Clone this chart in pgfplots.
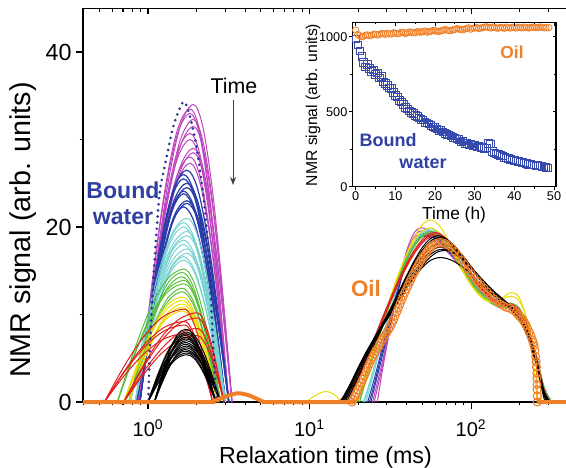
\documentclass[border=0pt]{standalone}
\usepackage{fontspec}
\setmainfont{Liberation Sans}
\usepackage{pgfplots}
\pgfplotsset{compat=1.18}
\usetikzlibrary{arrows.meta}
\definecolor{cOr}{RGB}{240,128,40}
\definecolor{cBt}{RGB}{48,64,160}
\definecolor{cMa}{RGB}{190,70,190}
\definecolor{cBl}{RGB}{40,60,170}
\definecolor{cCy}{RGB}{120,210,210}
\definecolor{cGr}{RGB}{90,190,60}
\definecolor{cYe}{RGB}{235,220,0}
\definecolor{cRe}{RGB}{225,30,30}
\definecolor{cDo}{RGB}{40,50,150}
\definecolor{cSq}{RGB}{55,75,175}
\pgfplotsset{wc/.style={smooth, tension=0.55, line width=0.75pt, mark=none}}
\begin{document}
\begin{tikzpicture}
\begin{axis}[
  at={(62.25pt,48.75pt)}, anchor=south west,
  scale only axis, width=362.25pt, height=295.3pt,
  xmode=log, xmin=0.396, xmax=387, ymin=0, ymax=45,
  clip=false,
  axis x line*=bottom, axis y line*=left,
  axis line style={-, line width=0.9pt},
  tick align=outside,
  major tick length=5pt, minor tick length=2.5pt,
  tick style={line width=0.8pt, black},
  xtick={1,10,100}, xticklabels={},
  minor xtick={0.4,0.5,0.6,0.7,0.8,0.9,2,3,4,5,6,7,8,9,20,30,40,50,60,70,80,90,200,300},
  ytick={0,20,40}, yticklabels={0,20,40},
  minor ytick={10,30},
  yticklabel style={font=\fontsize{17.5}{17.5}\selectfont},
]
% ---- bound water: magenta
\addplot[wc, cMa] coordinates {(0.891,0)(1.078,13.0)(1.303,24.0)(1.576,31.4)(1.905,34.0)(2.188,31.4)(2.512,24.0)(2.884,13.0)(3.311,0)};
\addplot[wc, cMa] coordinates {(0.871,0)(1.047,12.8)(1.259,23.7)(1.514,31.0)(1.820,33.5)(2.089,31.0)(2.399,23.7)(2.754,12.8)(3.162,0)};
\addplot[wc, cMa] coordinates {(0.871,0)(1.047,12.6)(1.259,23.3)(1.514,30.5)(1.820,33.0)(2.089,30.5)(2.399,23.3)(2.754,12.6)(3.162,0)};
\addplot[wc, cMa] coordinates {(0.891,0)(1.078,12.4)(1.303,22.8)(1.576,29.8)(1.905,32.3)(2.188,29.8)(2.512,22.8)(2.884,12.4)(3.311,0)};
\addplot[wc, cMa] coordinates {(0.891,0)(1.078,12.1)(1.303,22.3)(1.576,29.1)(1.905,31.5)(2.188,29.1)(2.512,22.3)(2.884,12.1)(3.311,0)};
\addplot[wc, cMa] coordinates {(0.871,0)(1.047,11.8)(1.259,21.7)(1.514,28.4)(1.820,30.7)(2.089,28.4)(2.399,21.7)(2.754,11.8)(3.162,0)};
\addplot[wc, cMa] coordinates {(0.871,0)(1.047,11.5)(1.259,21.2)(1.514,27.7)(1.820,30.0)(2.089,27.7)(2.399,21.2)(2.754,11.5)(3.162,0)};
\addplot[wc, cMa] coordinates {(0.891,0)(1.078,11.1)(1.303,20.5)(1.576,26.8)(1.905,29.0)(2.188,26.8)(2.512,20.5)(2.884,11.1)(3.311,0)};
\addplot[wc, cMa] coordinates {(0.891,0)(1.078,10.9)(1.303,20.1)(1.576,26.3)(1.905,28.5)(2.188,26.3)(2.512,20.1)(2.884,10.9)(3.311,0)};
\addplot[wc, cMa] coordinates {(0.871,0)(1.047,10.7)(1.259,19.8)(1.514,25.9)(1.820,28.0)(2.089,25.9)(2.399,19.8)(2.754,10.7)(3.162,0)};
\addplot[wc, cMa] coordinates {(0.871,0)(1.047,10.5)(1.259,19.3)(1.514,25.2)(1.820,27.3)(2.089,25.2)(2.399,19.3)(2.754,10.5)(3.162,0)};
% blue
\addplot[wc, cBl, line width=0.9pt] coordinates {(0.851,0)(1.017,10.1)(1.216,18.7)(1.454,24.5)(1.738,26.5)(2.018,24.5)(2.344,18.7)(2.723,10.1)(3.162,0)};
\addplot[wc, cBl, line width=0.9pt] coordinates {(0.891,0)(1.041,10.0)(1.216,18.4)(1.421,24.0)(1.660,26.0)(1.928,24.0)(2.239,18.4)(2.600,10.0)(3.020,0)};
\addplot[wc, cBl, line width=0.9pt] coordinates {(0.891,0)(1.041,9.8)(1.216,18.0)(1.421,23.6)(1.660,25.5)(1.928,23.6)(2.239,18.0)(2.600,9.8)(3.020,0)};
\addplot[wc, cBl, line width=0.9pt] coordinates {(0.851,0)(1.017,9.6)(1.216,17.7)(1.454,23.1)(1.738,25.0)(2.018,23.1)(2.344,17.7)(2.723,9.6)(3.162,0)};
\addplot[wc, cBl, line width=0.9pt] coordinates {(0.851,0)(1.017,9.4)(1.216,17.3)(1.454,22.6)(1.738,24.5)(2.018,22.6)(2.344,17.3)(2.723,9.4)(3.162,0)};
\addplot[wc, cBl, line width=0.9pt] coordinates {(0.891,0)(1.041,9.2)(1.216,17.0)(1.421,22.3)(1.660,24.1)(1.928,22.3)(2.239,17.0)(2.600,9.2)(3.020,0)};
\addplot[wc, cBl, line width=0.9pt] coordinates {(0.891,0)(1.041,9.1)(1.216,16.8)(1.421,22.0)(1.660,23.8)(1.928,22.0)(2.239,16.8)(2.600,9.1)(3.020,0)};
\addplot[wc, cBl, line width=0.9pt] coordinates {(0.851,0)(1.017,8.8)(1.216,16.3)(1.454,21.3)(1.738,23.0)(2.018,21.3)(2.344,16.3)(2.723,8.8)(3.162,0)};
\addplot[wc, cBl, line width=0.9pt] coordinates {(0.851,0)(1.017,8.7)(1.216,16.0)(1.454,21.0)(1.738,22.7)(2.018,21.0)(2.344,16.0)(2.723,8.7)(3.162,0)};
\addplot[wc, cBl, line width=0.9pt] coordinates {(0.891,0)(1.041,8.5)(1.216,15.8)(1.421,20.6)(1.660,22.3)(1.928,20.6)(2.239,15.8)(2.600,8.5)(3.020,0)};
% cyan
\addplot[wc, cCy] coordinates {(0.776,0)(0.950,8.0)(1.161,14.8)(1.421,19.4)(1.738,21.0)(1.995,19.4)(2.291,14.8)(2.630,8.0)(3.020,0)};
\addplot[wc, cCy] coordinates {(0.832,0)(0.989,7.9)(1.175,14.5)(1.396,18.9)(1.660,20.5)(1.916,18.9)(2.213,14.5)(2.556,7.9)(2.951,0)};
\addplot[wc, cCy] coordinates {(0.832,0)(0.989,7.7)(1.175,14.1)(1.396,18.5)(1.660,20.0)(1.916,18.5)(2.213,14.1)(2.556,7.7)(2.951,0)};
\addplot[wc, cCy] coordinates {(0.776,0)(0.950,7.5)(1.161,13.8)(1.421,18.0)(1.738,19.5)(1.995,18.0)(2.291,13.8)(2.630,7.5)(3.020,0)};
\addplot[wc, cCy] coordinates {(0.776,0)(0.950,7.3)(1.161,13.4)(1.421,17.6)(1.738,19.0)(1.995,17.6)(2.291,13.4)(2.630,7.3)(3.020,0)};
\addplot[wc, cCy] coordinates {(0.832,0)(0.989,7.1)(1.175,13.1)(1.396,17.1)(1.660,18.5)(1.916,17.1)(2.213,13.1)(2.556,7.1)(2.951,0)};
\addplot[wc, cCy] coordinates {(0.832,0)(0.989,6.9)(1.175,12.7)(1.396,16.6)(1.660,18.0)(1.916,16.6)(2.213,12.7)(2.556,6.9)(2.951,0)};
\addplot[wc, cCy] coordinates {(0.776,0)(0.950,6.7)(1.161,12.4)(1.421,16.2)(1.738,17.5)(1.995,16.2)(2.291,12.4)(2.630,6.7)(3.020,0)};
\addplot[wc, cCy] coordinates {(0.776,0)(0.950,6.5)(1.161,12.0)(1.421,15.7)(1.738,17.0)(1.995,15.7)(2.291,12.0)(2.630,6.5)(3.020,0)};
\addplot[wc, cCy] coordinates {(0.832,0)(0.989,6.4)(1.175,11.7)(1.396,15.3)(1.660,16.6)(1.916,15.3)(2.213,11.7)(2.556,6.4)(2.951,0)};
\addplot[wc, cCy] coordinates {(0.832,0)(0.989,6.2)(1.175,11.5)(1.396,15.0)(1.660,16.2)(1.916,15.0)(2.213,11.5)(2.556,6.2)(2.951,0)};
% green
\addplot[wc, cGr] coordinates {(0.646,0)(0.818,5.8)(1.035,10.7)(1.311,14.0)(1.660,15.2)(1.894,14.0)(2.163,10.7)(2.469,5.8)(2.818,0)};
\addplot[wc, cGr] coordinates {(0.759,0)(0.917,5.7)(1.109,10.5)(1.341,13.7)(1.622,14.8)(1.851,13.7)(2.113,10.5)(2.413,5.7)(2.754,0)};
\addplot[wc, cGr] coordinates {(0.759,0)(0.917,5.5)(1.109,10.1)(1.341,13.2)(1.622,14.3)(1.851,13.2)(2.113,10.1)(2.413,5.5)(2.754,0)};
\addplot[wc, cGr] coordinates {(0.646,0)(0.818,5.3)(1.035,9.8)(1.311,12.8)(1.660,13.9)(1.894,12.8)(2.163,9.8)(2.469,5.3)(2.818,0)};
\addplot[wc, cGr] coordinates {(0.646,0)(0.818,5.2)(1.035,9.5)(1.311,12.5)(1.660,13.5)(1.894,12.5)(2.163,9.5)(2.469,5.2)(2.818,0)};
\addplot[wc, cGr] coordinates {(0.759,0)(0.917,5.0)(1.109,9.2)(1.341,12.0)(1.622,13.0)(1.851,12.0)(2.113,9.2)(2.413,5.0)(2.754,0)};
\addplot[wc, cGr] coordinates {(0.759,0)(0.917,4.8)(1.109,8.9)(1.341,11.6)(1.622,12.6)(1.851,11.6)(2.113,8.9)(2.413,4.8)(2.754,0)};
% yellow
\addplot[wc, cYe] coordinates {(0.708,0)(0.871,4.6)(1.072,8.5)(1.318,11.1)(1.622,12.0)(1.841,11.1)(2.089,8.5)(2.371,4.6)(2.692,0)};
\addplot[wc, cYe] coordinates {(0.708,0)(0.871,4.4)(1.072,8.2)(1.318,10.7)(1.622,11.6)(1.841,10.7)(2.089,8.2)(2.371,4.4)(2.692,0)};
\addplot[wc, cYe] coordinates {(0.759,0)(0.917,4.3)(1.109,7.9)(1.341,10.3)(1.622,11.2)(1.851,10.3)(2.113,7.9)(2.413,4.3)(2.754,0)};
\addplot[wc, cYe] coordinates {(0.759,0)(0.917,4.1)(1.109,7.6)(1.341,10.0)(1.622,10.8)(1.851,10.0)(2.113,7.6)(2.413,4.1)(2.754,0)};
\addplot[wc, cYe] coordinates {(0.708,0)(0.871,4.0)(1.072,7.4)(1.318,9.6)(1.622,10.4)(1.841,9.6)(2.089,7.4)(2.371,4.0)(2.692,0)};
% red
\addplot[wc, cRe] coordinates {(0.537,0)(0.712,4.1)(0.944,7.5)(1.252,9.8)(1.660,10.6)(1.841,9.8)(2.042,7.5)(2.265,4.1)(2.512,0)};
\addplot[wc, cRe] coordinates {(0.708,0)(0.917,3.9)(1.189,7.2)(1.540,9.4)(1.995,10.2)(2.200,9.4)(2.427,7.2)(2.676,3.9)(2.951,0)};
\addplot[wc, cRe] coordinates {(0.708,0)(0.917,3.7)(1.189,6.8)(1.540,8.9)(1.995,9.6)(2.200,8.9)(2.427,6.8)(2.676,3.7)(2.951,0)};
\addplot[wc, cRe] coordinates {(0.537,0)(0.712,3.5)(0.944,6.5)(1.252,8.5)(1.660,9.2)(1.841,8.5)(2.042,6.5)(2.265,3.5)(2.512,0)};
\addplot[wc, cRe] coordinates {(0.537,0)(0.712,3.4)(0.944,6.2)(1.252,8.1)(1.660,8.8)(1.841,8.1)(2.042,6.2)(2.265,3.4)(2.512,0)};
\addplot[wc, cRe] coordinates {(0.708,0)(0.917,3.2)(1.189,5.9)(1.540,7.8)(1.995,8.4)(2.200,7.8)(2.427,5.9)(2.676,3.2)(2.951,0)};
\addplot[wc, cRe] coordinates {(0.708,0)(0.917,2.9)(1.189,5.4)(1.540,7.0)(1.995,7.6)(2.200,7.0)(2.427,5.4)(2.676,2.9)(2.951,0)};
\addplot[wc, cRe] coordinates {(0.537,0)(0.712,3.0)(0.944,5.5)(1.252,7.2)(1.660,7.8)(1.841,7.2)(2.042,5.5)(2.265,3.0)(2.512,0)};
% black
\addplot[wc, black] coordinates {(1.096,0)(1.223,3.2)(1.365,5.9)(1.522,7.7)(1.698,8.3)(1.928,7.7)(2.188,5.9)(2.483,3.2)(2.818,0)};
\addplot[wc, black] coordinates {(1.000,0)(1.148,3.1)(1.318,5.7)(1.514,7.4)(1.738,8.0)(1.928,7.4)(2.138,5.7)(2.371,3.1)(2.630,0)};
\addplot[wc, black] coordinates {(1.000,0)(1.148,3.0)(1.318,5.5)(1.514,7.2)(1.738,7.8)(1.928,7.2)(2.138,5.5)(2.371,3.0)(2.630,0)};
\addplot[wc, black] coordinates {(1.096,0)(1.223,2.9)(1.365,5.4)(1.522,7.0)(1.698,7.6)(1.928,7.0)(2.188,5.4)(2.483,2.9)(2.818,0)};
\addplot[wc, black] coordinates {(1.096,0)(1.223,2.8)(1.365,5.2)(1.522,6.8)(1.698,7.4)(1.928,6.8)(2.188,5.2)(2.483,2.8)(2.818,0)};
\addplot[wc, black] coordinates {(1.000,0)(1.148,2.8)(1.318,5.1)(1.514,6.7)(1.738,7.2)(1.928,6.7)(2.138,5.1)(2.371,2.8)(2.630,0)};
\addplot[wc, black] coordinates {(1.000,0)(1.148,2.7)(1.318,4.9)(1.514,6.5)(1.738,7.0)(1.928,6.5)(2.138,4.9)(2.371,2.7)(2.630,0)};
\addplot[wc, black] coordinates {(1.096,0)(1.223,2.6)(1.365,4.8)(1.522,6.3)(1.698,6.8)(1.928,6.3)(2.188,4.8)(2.483,2.6)(2.818,0)};
\addplot[wc, black] coordinates {(1.096,0)(1.223,2.5)(1.365,4.7)(1.522,6.1)(1.698,6.6)(1.928,6.1)(2.188,4.7)(2.483,2.5)(2.818,0)};
\addplot[wc, black] coordinates {(1.000,0)(1.148,2.5)(1.318,4.5)(1.514,5.9)(1.738,6.4)(1.928,5.9)(2.138,4.5)(2.371,2.5)(2.630,0)};
\addplot[wc, black] coordinates {(1.000,0)(1.148,2.4)(1.318,4.4)(1.514,5.7)(1.738,6.2)(1.928,5.7)(2.138,4.4)(2.371,2.4)(2.630,0)};
\addplot[wc, black] coordinates {(1.096,0)(1.223,2.3)(1.365,4.2)(1.522,5.5)(1.698,6.0)(1.928,5.5)(2.188,4.2)(2.483,2.3)(2.818,0)};
\addplot[wc, black] coordinates {(1.096,0)(1.223,2.2)(1.365,4.1)(1.522,5.4)(1.698,5.8)(1.928,5.4)(2.188,4.1)(2.483,2.2)(2.818,0)};
\addplot[wc, black] coordinates {(1.000,0)(1.148,2.1)(1.318,4.0)(1.514,5.2)(1.738,5.6)(1.928,5.2)(2.138,4.0)(2.371,2.1)(2.630,0)};
\addplot[wc, black] coordinates {(1.000,0)(1.148,2.1)(1.318,3.8)(1.514,5.0)(1.738,5.4)(1.928,5.0)(2.138,3.8)(2.371,2.1)(2.630,0)};
% ---- oil curves
\addplot[wc, cMa] coordinates {(26.30,0)(28.18,3.5)(31.62,8.5)(35.48,13.0)(39.81,16.8)(44.67,19.0)(50.12,19.6)(56.23,19.2)(63.10,18.5)(70.79,17.6)(79.43,16.5)(89.13,15.3)(100,14.1)(112.2,13.1)(125.9,12.3)(141.3,11.7)(158.5,11.2)(177.8,10.7)(199.5,9.8)(223.9,8.2)(251.2,5.5)(281.8,1.5)(302.0,0)};
\addplot[wc, cMa] coordinates {(25.12,0)(28.18,4.0)(31.62,8.8)(35.48,13.3)(39.81,17.2)(44.67,19.4)(50.12,19.9)(56.23,19.4)(63.10,18.6)(70.79,17.5)(79.43,16.3)(89.13,15.0)(100,13.8)(112.2,12.8)(125.9,12.0)(141.3,11.5)(158.5,11.1)(177.8,10.8)(199.5,10.0)(223.9,8.3)(251.2,5.5)(281.8,1.6)(309.0,0)};
\addplot[wc, cMa] coordinates {(24.55,0)(28.18,4.5)(31.62,9.0)(35.48,13.5)(39.81,17.0)(44.67,18.8)(50.12,19.1)(56.23,18.7)(63.10,18.0)(70.79,17.2)(79.43,16.2)(89.13,15.1)(100,14.0)(112.2,12.9)(125.9,12.0)(141.3,11.3)(158.5,10.9)(177.8,10.6)(199.5,9.9)(223.9,8.4)(251.2,5.6)(281.8,1.7)(309.0,0)};
\addplot[wc, cBl] coordinates {(23.99,0)(25.12,1.5)(28.18,5.2)(31.62,9.0)(35.48,12.8)(39.81,16.0)(44.67,18.0)(50.12,18.9)(56.23,18.9)(63.10,18.3)(70.79,17.4)(79.43,16.4)(89.13,15.3)(100,14.2)(112.2,13.2)(125.9,12.3)(141.3,11.6)(158.5,11.1)(177.8,10.8)(199.5,10.0)(223.9,8.3)(251.2,5.4)(281.8,1.6)(309.0,0)};
\addplot[wc, cBl] coordinates {(23.44,0)(25.12,2.0)(28.18,5.7)(31.62,9.4)(35.48,13.0)(39.81,16.1)(44.67,18.1)(50.12,19.0)(56.23,19.0)(63.10,18.4)(70.79,17.5)(79.43,16.5)(89.13,15.4)(100,14.2)(112.2,13.2)(125.9,12.3)(141.3,11.6)(158.5,11.2)(177.8,10.9)(199.5,10.1)(223.9,8.4)(251.2,5.5)(281.8,1.7)(309.0,0)};
\addplot[wc, cBl] coordinates {(22.91,0)(25.12,2.6)(28.18,6.2)(31.62,9.8)(35.48,13.2)(39.81,16.2)(44.67,18.2)(50.12,19.2)(56.23,19.3)(63.10,18.7)(70.79,17.7)(79.43,16.6)(89.13,15.4)(100,14.3)(112.2,13.3)(125.9,12.4)(141.3,11.7)(158.5,11.3)(177.8,11.0)(199.5,10.1)(223.9,8.4)(251.2,5.5)(281.8,1.8)(316.2,0)};
\addplot[wc, cCy] coordinates {(22.39,0)(25.12,3.5)(28.18,7.0)(31.62,10.4)(35.48,13.6)(39.81,16.3)(44.67,18.2)(50.12,19.3)(56.23,19.6)(63.10,19.2)(70.79,18.2)(79.43,16.9)(89.13,15.5)(100,14.2)(112.2,13.0)(125.9,12.1)(141.3,11.4)(158.5,11.0)(177.8,10.9)(199.5,10.3)(223.9,8.6)(251.2,5.6)(281.8,1.8)(316.2,0)};
\addplot[wc, cCy] coordinates {(21.88,0)(25.12,3.8)(28.18,7.2)(31.62,10.6)(35.48,13.8)(39.81,16.5)(44.67,18.4)(50.12,19.5)(56.23,19.8)(63.10,19.3)(70.79,18.3)(79.43,17.0)(89.13,15.6)(100,14.3)(112.2,13.1)(125.9,12.2)(141.3,11.5)(158.5,11.1)(177.8,10.9)(199.5,10.2)(223.9,8.5)(251.2,5.5)(281.8,1.7)(309.0,0)};
\addplot[wc, cCy] coordinates {(21.38,0)(22.39,0.9)(25.12,4.0)(28.18,7.3)(31.62,10.5)(35.48,13.5)(39.81,16.0)(44.67,17.9)(50.12,19.0)(56.23,19.4)(63.10,19.1)(70.79,18.3)(79.43,17.2)(89.13,15.9)(100,14.6)(112.2,13.4)(125.9,12.4)(141.3,11.6)(158.5,11.0)(177.8,10.6)(199.5,9.9)(223.9,8.3)(251.2,5.3)(281.8,1.5)(309.0,0)};
\addplot[wc, cGr] coordinates {(20.42,0)(22.39,2.5)(25.12,5.5)(28.18,8.5)(31.62,11.3)(35.48,13.9)(39.81,16.1)(44.67,17.8)(50.12,18.9)(56.23,19.3)(63.10,19.0)(70.79,18.1)(79.43,16.8)(89.13,15.3)(100,13.9)(112.2,12.7)(125.9,11.8)(141.3,11.3)(158.5,11.2)(177.8,11.3)(199.5,10.7)(223.9,8.8)(251.2,5.6)(281.8,1.7)(316.2,0)};
\addplot[wc, cGr] coordinates {(20.42,0)(22.39,2.7)(25.12,5.7)(28.18,8.7)(31.62,11.5)(35.48,14.0)(39.81,16.2)(44.67,17.9)(50.12,19.1)(56.23,19.5)(63.10,19.2)(70.79,18.2)(79.43,16.8)(89.13,15.2)(100,13.7)(112.2,12.5)(125.9,11.6)(141.3,11.0)(158.5,10.8)(177.8,10.9)(199.5,10.5)(223.9,8.7)(251.2,5.5)(281.8,1.6)(309.0,0)};
\addplot[wc, cGr] coordinates {(19.95,0)(22.39,3.0)(25.12,6.0)(28.18,9.0)(31.62,11.8)(35.48,14.3)(39.81,16.4)(44.67,18.0)(50.12,19.0)(56.23,19.2)(63.10,18.8)(70.79,17.8)(79.43,16.4)(89.13,14.9)(100,13.5)(112.2,12.4)(125.9,11.6)(141.3,11.1)(158.5,10.9)(177.8,10.9)(199.5,10.3)(223.9,8.6)(251.2,5.4)(281.8,1.5)(309.0,0)};
\addplot[wc, cYe] coordinates {(9.5,0)(11.0,0.8)(12.6,1.2)(14.1,0.9)(15.8,0.1)(17.0,0)(19.50,0)(22.39,2.8)(25.12,5.8)(28.18,8.9)(31.62,11.8)(35.48,14.5)(39.81,16.9)(44.67,18.9)(50.12,20.3)(56.23,20.8)(63.10,20.2)(70.79,18.8)(79.43,16.9)(89.13,15.0)(100,13.4)(112.2,12.2)(125.9,11.5)(141.3,11.4)(158.5,12.0)(177.8,12.5)(199.5,11.9)(223.9,9.0)(239.9,5.5)(257.0,0)};
\addplot[wc, cYe] coordinates {(19.50,0)(22.39,3.2)(25.12,6.2)(28.18,9.2)(31.62,12.0)(35.48,14.6)(39.81,16.8)(44.67,18.5)(50.12,19.6)(56.23,19.9)(63.10,19.4)(70.79,18.2)(79.43,16.6)(89.13,14.9)(100,13.4)(112.2,12.3)(125.9,11.6)(141.3,11.4)(158.5,11.8)(177.8,12.1)(199.5,11.5)(223.9,9.2)(251.2,5.2)(275.4,0)};
\addplot[wc, cRe] coordinates {(15.14,0)(16.60,0.8)(17.78,1.5)(19.95,3.0)(22.39,5.0)(25.12,7.3)(28.18,9.6)(31.62,11.8)(35.48,13.9)(39.81,15.8)(44.67,17.4)(50.12,18.6)(56.23,19.3)(63.10,19.3)(70.79,18.6)(79.43,17.4)(89.13,16.0)(100,14.5)(112.2,13.2)(125.9,12.2)(141.3,11.5)(158.5,11.2)(177.8,11.2)(199.5,10.5)(223.9,8.6)(251.2,5.4)(281.8,1.5)(309.0,0)};
\addplot[wc, cRe] coordinates {(15.49,0)(17.78,1.3)(19.95,2.8)(22.39,4.8)(25.12,7.1)(28.18,9.4)(31.62,11.6)(35.48,13.7)(39.81,15.6)(44.67,17.2)(50.12,18.4)(56.23,19.1)(63.10,19.2)(70.79,18.6)(79.43,17.5)(89.13,16.1)(100,14.7)(112.2,13.4)(125.9,12.3)(141.3,11.5)(158.5,11.0)(177.8,10.9)(199.5,10.3)(223.9,8.5)(251.2,5.4)(281.8,1.5)(309.0,0)};
\addplot[wc, cRe] coordinates {(15.85,0)(17.78,1.0)(19.95,2.6)(22.39,4.6)(25.12,6.9)(28.18,9.2)(31.62,11.4)(35.48,13.5)(39.81,15.4)(44.67,17.0)(50.12,18.2)(56.23,18.9)(63.10,19.0)(70.79,18.5)(79.43,17.5)(89.13,16.2)(100,14.8)(112.2,13.5)(125.9,12.4)(141.3,11.6)(158.5,11.1)(177.8,10.9)(199.5,10.2)(223.9,8.4)(251.2,5.3)(281.8,1.4)(309.0,0)};
\addplot[wc, black] coordinates {(15.85,0)(17.78,1.8)(19.95,3.7)(22.39,5.6)(25.12,7.2)(28.18,8.8)(31.62,10.4)(35.48,12.0)(39.81,13.6)(44.67,15.0)(50.12,16.2)(56.23,17.2)(63.10,17.7)(70.79,17.6)(79.43,17.0)(89.13,16.2)(100,15.2)(112.2,14.1)(125.9,13.1)(141.3,12.2)(158.5,11.4)(177.8,10.6)(199.5,9.4)(223.9,7.6)(251.2,4.8)(281.8,0.5)(295.1,0)};
\addplot[wc, black] coordinates {(16.60,0)(17.78,1.2)(19.95,3.2)(22.39,5.2)(25.12,7.0)(28.18,8.8)(31.62,10.6)(35.48,12.4)(39.81,14.2)(44.67,15.8)(50.12,17.2)(56.23,18.2)(63.10,18.6)(70.79,18.4)(79.43,17.7)(89.13,16.7)(100,15.5)(112.2,14.3)(125.9,13.2)(141.3,12.3)(158.5,11.6)(177.8,10.9)(199.5,9.7)(223.9,7.9)(251.2,5.0)(281.8,1.0)(302.0,0)};
\addplot[wc, black] coordinates {(15.49,0)(17.78,2.0)(19.95,3.9)(22.39,5.7)(25.12,7.3)(28.18,8.8)(31.62,10.2)(35.48,11.6)(39.81,13.0)(44.67,14.3)(50.12,15.4)(56.23,16.2)(63.10,16.5)(70.79,16.4)(79.43,16.0)(89.13,15.4)(100,14.6)(112.2,13.7)(125.9,12.8)(141.3,12.0)(158.5,11.3)(177.8,10.5)(199.5,9.3)(223.9,7.4)(251.2,4.5)(281.8,0.8)(302.0,0)};
\addplot[wc, black] coordinates {(17.38,0)(17.78,0.4)(19.95,2.4)(22.39,4.5)(25.12,6.5)(28.18,8.5)(31.62,10.5)(35.48,12.5)(39.81,14.4)(44.67,16.2)(50.12,17.7)(56.23,18.7)(63.10,19.0)(70.79,18.6)(79.43,17.8)(89.13,16.6)(100,15.4)(112.2,14.2)(125.9,13.1)(141.3,12.2)(158.5,11.5)(177.8,10.8)(199.5,9.6)(223.9,7.7)(251.2,4.9)(281.8,1.2)(309.0,0)};
\addplot[wc, black] coordinates {(16.22,0)(17.78,1.5)(19.95,3.5)(22.39,5.4)(25.12,7.1)(28.18,8.6)(31.62,10.0)(35.48,11.5)(39.81,13.0)(44.67,14.4)(50.12,15.6)(56.23,16.6)(63.10,17.2)(70.79,17.3)(79.43,16.9)(89.13,16.2)(100,15.3)(112.2,14.3)(125.9,13.4)(141.3,12.5)(158.5,11.7)(177.8,10.9)(199.5,9.8)(223.9,8.0)(251.2,5.2)(281.8,1.3)(309.0,0)};
\addplot[wc, black] coordinates {(16.22,0)(17.78,1.6)(19.95,3.6)(22.39,5.5)(25.12,7.2)(28.18,8.9)(31.62,10.6)(35.48,12.3)(39.81,13.9)(44.67,15.4)(50.12,16.7)(56.23,17.7)(63.10,18.1)(70.79,18.0)(79.43,17.4)(89.13,16.5)(100,15.4)(112.2,14.2)(125.9,13.2)(141.3,12.3)(158.5,11.5)(177.8,10.8)(199.5,9.6)(223.9,7.8)(251.2,4.9)(281.8,0.9)(302.0,0)};
\addplot[wc, black] coordinates {(15.85,0)(17.78,1.9)(19.95,3.8)(22.39,5.6)(25.12,7.2)(28.18,8.7)(31.62,10.1)(35.48,11.8)(39.81,13.3)(44.67,14.7)(50.12,15.9)(56.23,16.9)(63.10,17.4)(70.79,17.4)(79.43,17.0)(89.13,16.3)(100,15.4)(112.2,14.4)(125.9,13.4)(141.3,12.5)(158.5,11.7)(177.8,10.9)(199.5,9.7)(223.9,7.9)(251.2,5.1)(281.8,1.2)(309.0,0)};
\addplot[wc, black] coordinates {(16.98,0)(17.78,0.8)(19.95,2.8)(22.39,4.9)(25.12,6.8)(28.18,8.6)(31.62,10.5)(35.48,12.4)(39.81,14.3)(44.67,16.0)(50.12,17.4)(56.23,18.4)(63.10,18.8)(70.79,18.5)(79.43,17.7)(89.13,16.6)(100,15.4)(112.2,14.2)(125.9,13.1)(141.3,12.2)(158.5,11.5)(177.8,10.8)(199.5,9.6)(223.9,7.8)(251.2,5.0)(281.8,1.1)(302.0,0)};
% ---- dotted reference
\addplot[smooth, cDo, line width=2.2pt, line cap=round, dash pattern=on 0pt off 4.6pt] coordinates {(1.005,0.2)(1.028,6.3)(1.079,13.9)(1.132,19.7)(1.186,24.2)(1.306,28.0)(1.435,31.5)(1.656,34.3)(1.82,32.6)(1.995,29.2)(2.203,23.5)(2.360,17.7)(2.477,10.1)(2.600,2.5)(2.661,0.2)};
% ---- orange baseline
\addplot[cOr, line width=3pt, smooth] coordinates {(0.396,0)(2.3,0)(2.5,0.05)(3.0,0.6)(3.6,1.0)(4.3,0.7)(5.15,0.05)(5.6,0)(19.0,0)};
\addplot[cOr, line width=3pt] coordinates {(256.8,0)(387,0)};
% ---- orange oil with circles
\addplot[cOr, line width=0.8pt, smooth, mark=o, mark size=3pt, mark options={fill=white, draw=cOr, line width=0.8pt}] coordinates {(18.32,0)(18.62,0.3)(19.05,0.6)(19.50,1.0)(19.95,1.4)(20.42,1.8)(20.89,2.2)(21.38,2.6)(21.88,3.0)(22.39,3.45)(22.91,3.9)(23.44,4.35)(23.99,4.8)(24.55,5.15)(25.12,5.5)(25.70,5.8)(26.30,6.1)(26.92,6.45)(27.54,6.8)(28.18,7.1)(28.84,7.4)(29.51,7.7)(30.20,8.0)(30.90,8.3)(31.62,8.6)(32.36,9.0)(33.11,9.4)(33.88,9.85)(34.67,10.3)(35.48,10.75)(36.31,11.2)(37.15,11.65)(38.02,12.1)(38.90,12.5)(39.81,12.9)(40.74,13.3)(41.69,13.7)(42.66,14.1)(43.65,14.5)(44.67,14.85)(45.71,15.2)(46.77,15.55)(47.86,15.9)(48.98,16.2)(50.12,16.5)(51.29,16.75)(52.48,17.0)(53.70,17.25)(54.95,17.5)(56.23,17.7)(57.54,17.9)(60.26,18.1)(63.10,18.2)(66.07,18.2)(69.18,18.1)(72.44,17.9)(75.86,17.6)(79.43,17.2)(83.18,16.7)(87.10,16.2)(91.20,15.7)(95.50,15.2)(100,14.7)(104.7,14.2)(109.6,13.8)(114.8,13.4)(120.2,13.0)(125.9,12.6)(131.8,12.2)(138.0,11.8)(144.5,11.5)(151.4,11.2)(158.5,11.0)(166.0,10.8)(173.8,10.7)(182.0,10.5)(190.5,10.2)(195.0,10.0)(199.5,9.8)(204.2,9.6)(208.9,9.4)(213.8,9.1)(218.8,8.8)(223.9,8.4)(229.1,8.0)(234.4,7.6)(239.9,7.1)(242.7,6.8)(245.5,6.4)(248.3,5.9)(251.2,5.2)(252.7,4.6)(254.1,4.0)(255.0,3.3)(255.5,2.7)(256.0,2.0)(256.3,1.4)(256.6,0.7)(256.8,0)};
\end{axis}
% top ticks of main axis
\begin{axis}[
  at={(62.25pt,48.75pt)}, anchor=south west,
  scale only axis, width=362.25pt, height=295.3pt,
  xmode=log, xmin=0.396, xmax=387, ymin=0, ymax=45,
  axis x line*=top, axis y line=none,
  axis line style={-, line width=0.9pt},
  tick align=inside,
  major tick length=4pt, minor tick length=2.5pt,
  tick style={line width=0.8pt, black},
  xtick={1,10,100}, xticklabels={},
  minor xtick={0.4,0.5,0.6,0.7,0.8,0.9,2,3,4,5,6,7,8,9,20,30,40,50,60,70,80,90,200,300},
]
\addplot[draw=none] coordinates {(1,1)};
\end{axis}
% ---- inset
\begin{axis}[
  at={(264.2pt,210.2pt)}, anchor=south west,
  scale only axis, width=152.8pt, height=123.3pt,
  xmin=-0.86, xmax=50.5, ymin=0, ymax=1096,
  axis background/.style={fill=white},
  axis x line*=bottom, axis y line*=left,
  axis line style={-, line width=0.8pt},
  tick align=outside,
  major tick length=2.5pt, minor tick length=1.5pt,
  tick style={line width=0.7pt, black},
  xtick={0,10,20,30,40,50}, xticklabels={0,10,20,30,40,50},
  minor xtick={5,15,25,35,45},
  ytick={0,500,1000}, yticklabels={0,500,1000},
  minor ytick={250,750},
  ticklabel style={font=\fontsize{9.5}{9.5}\selectfont, inner sep=1pt},
]
\addplot[only marks, mark=square, mark size=2.8pt, mark options={draw=cSq, line width=0.6pt}] coordinates {(0,985)(0.5,945)(1,905)(1.5,870)(2,830)(2.5,800)(3,815)(3.5,790)(4,770)(4.5,780)(5,750)(5.5,760)(6,725)(6.5,735)(7,700)(7.5,690)(8,675)(8.5,660)(9,655)(9.5,630)(10,610)(10.5,600)(11,575)(11.5,565)(12,550)(12.5,530)(13,520)(13.5,505)(14,495)(14.5,490)(15,475)(15.5,470)(16,460)(16.5,450)(17,445)(17.5,430)(18,425)(18.5,420)(19,410)(19.5,400)(20,395)(20.5,385)(21,375)(21.5,380)(22,365)(22.5,355)(23,350)(23.5,345)(24,340)(24.5,330)(25,325)(25.5,320)(26,315)(26.5,300)(27,305)(27.5,290)(28,290)(28.5,280)(29,285)(29.5,275)(30,275)(30.5,265)(31,270)(31.5,260)(32,262)(32.5,255)(33,258)(33.5,290)(34,285)(34.5,235)(35,225)(35.5,220)(36,215)(36.5,210)(37,205)(37.5,195)(38,192)(38.5,188)(39,183)(39.5,180)(40,177)(40.5,172)(41,170)(41.5,165)(42,162)(42.5,158)(43,156)(43.5,150)(44,150)(44.5,146)(45,145)(45.5,140)(46,141)(46.5,138)(47,136)(47.5,132)(48,130)(48.5,125)};
\addplot[only marks, mark=o, mark size=2.4pt, mark options={draw=cOr, line width=0.6pt}] coordinates {(0,1044)(0.5,1015)(1,1008)(1.5,1000)(2,1003)(2.5,1010)(3,1012)(3.5,1006)(4,1010)(4.5,1016)(5,1018)(5.5,1012)(6,1015)(6.5,1022)(7,1020)(7.5,1016)(8,1024)(8.5,1020)(9,1018)(9.5,1026)(10,1025)(10.5,1020)(11,1022)(11.5,1030)(12,1028)(12.5,1022)(13,1025)(13.5,1032)(14,1030)(14.5,1026)(15,1027)(15.5,1034)(16,1032)(16.5,1030)(17,1035)(17.5,1038)(18,1030)(18.5,1034)(19,1036)(19.5,1042)(20,1040)(20.5,1036)(21,1035)(21.5,1040)(22,1042)(22.5,1048)(23,1045)(23.5,1041)(24,1040)(24.5,1046)(25,1048)(25.5,1054)(26,1052)(26.5,1048)(27,1046)(27.5,1052)(28,1055)(28.5,1060)(29,1050)(29.5,1056)(30,1058)(30.5,1062)(31,1054)(31.5,1058)(32,1060)(32.5,1064)(33,1066)(33.5,1062)(34,1058)(34.5,1064)(35,1062)(35.5,1058)(36,1057)(36.5,1062)(37,1060)(37.5,1056)(38,1064)(38.5,1060)(39,1058)(39.5,1063)(40,1061)(40.5,1058)(41,1063)(41.5,1060)(42,1059)(42.5,1064)(43,1062)(43.5,1058)(44,1060)(44.5,1063)(45,1064)(45.5,1060)(46,1061)(46.5,1065)(47,1063)(47.5,1060)(48,1060)(48.7,1060)};
\end{axis}
\begin{axis}[
  at={(264.2pt,210.2pt)}, anchor=south west,
  scale only axis, width=152.8pt, height=123.3pt,
  xmin=-0.86, xmax=50.5, ymin=0, ymax=1096,
  axis x line*=top, axis y line*=right,
  axis line style={-, line width=0.8pt},
  tick align=inside,
  major tick length=2.5pt, minor tick length=1.5pt,
  tick style={line width=0.7pt, black},
  xtick={0,10,20,30,40,50}, xticklabels={},
  minor xtick={5,15,25,35,45},
  ytick={0,500,1000}, yticklabels={},
  minor ytick={250,750},
]
\addplot[draw=none] coordinates {(10,100)};
\end{axis}
% ---- texts
\node[anchor=base, font=\fontsize{15}{15}\selectfont] at (111.0pt,22.7pt) {10\textsuperscript{0}};
\node[anchor=base, font=\fontsize{15}{15}\selectfont] at (232.1pt,22.7pt) {10\textsuperscript{1}};
\node[anchor=base, font=\fontsize{15}{15}\selectfont] at (353.3pt,22.7pt) {10\textsuperscript{2}};
\node[rotate=90, font=\fontsize{21.5}{21.5}\selectfont] at (17.25pt,177.75pt) {NMR signal (arb. units)};
\node[anchor=base, font=\fontsize{17.4}{17.4}\selectfont] at (244.1pt,2.8pt) {Relaxation time (ms)};
\node[rotate=90, font=\fontsize{11.8}{11.8}\selectfont] at (234.75pt,271.5pt) {NMR signal (arb. units)};
\node[anchor=base, font=\fontsize{13}{13}\selectfont] at (340.5pt,185.8pt) {Time (h)};
\node[font=\fontsize{16}{16}\selectfont] at (175.5pt,285.75pt) {Time};
\draw[-{Stealth[length=6pt,width=4.5pt]}, line width=0.75pt, black!75] (174.75pt,275.25pt) -- (174.75pt,211.5pt);
\node[font=\bfseries\fontsize{17.3}{17.3}\selectfont, text=cBt] at (92.25pt,207.75pt) {Bound};
\node[font=\bfseries\fontsize{17.3}{17.3}\selectfont, text=cBt] at (92.25pt,187.5pt) {water};
\node[font=\bfseries\fontsize{16.8}{16.8}\selectfont, text=cOr] at (274.5pt,134.25pt) {Oil};
\node[font=\bfseries\fontsize{13}{13}\selectfont, text=cOr] at (384pt,311.25pt) {Oil};
\node[font=\bfseries\fontsize{13.5}{13.5}\selectfont, text=cBt] at (291pt,245.25pt) {Bound};
\node[font=\bfseries\fontsize{13.5}{13.5}\selectfont, text=cBt] at (317.25pt,228pt) {water};
\pgfresetboundingbox
\useasboundingbox (0,0) rectangle (424.5pt,350.25pt);
\end{tikzpicture}
\end{document}
